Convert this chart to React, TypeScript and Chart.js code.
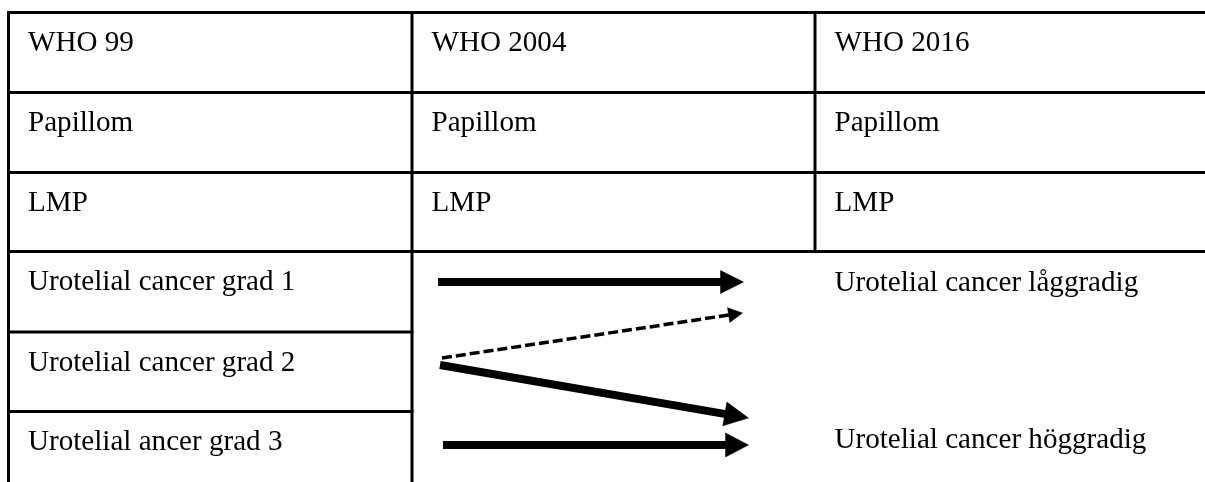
import React, { useEffect, useRef } from "react";
import { Chart, registerables } from "chart.js";

Chart.register(...registerables);

// ---------- content ----------
const headers = ["WHO 99", "WHO 2004", "WHO 2016"];
const who99Rows = [
  "Papillom",
  "LMP",
  "Urotelial cancer grad 1",
  "Urotelial cancer grad 2",
  "Urotelial ancer grad 3",
];
const who2004Rows = ["Papillom", "LMP"];
const who2016Rows = ["Papillom", "LMP"];
const mergedOutcomes = ["Urotelial cancer låggradig", "Urotelial cancer höggradig"];
// transitions: WHO 99 grade row -> merged outcome
const transitionFrom = [2, 3, 3, 4];
const transitionTo = [0, 0, 1, 1];
const transitionDashed = [false, true, false, false];

// ---------- layout (scale units = pixels) ----------
const W = 1205;
const H = 482;
const rowLines = [12.5, 92.5, 172.5, 251.5, 332, 411.5];
const colLines = [8.5, 412, 815];
const GRID_W = 3;
const TEXT_DX = 19.5;
const TEXT_DY = 38.5;
const FONT_PX = 29.1;
const outcomeBaselines = [290.5, 448];
const arrowLayout = [
  { x0: 438, y0: 282, x1: 743.5, y1: 282, lw: 8, headL: 23, headW: 23 },
  { x0: 442, y0: 358, x1: 742.5, y1: 313, lw: 3.5, headL: 14, headW: 15 },
  { x0: 440, y0: 365, x1: 748.5, y1: 418, lw: 8, headL: 24, headW: 24 },
  { x0: 443, y0: 445, x1: 748.5, y1: 445, lw: 8, headL: 23, headW: 24 },
];

function seg(x0: number, y0: number, x1: number, y1: number, width: number, extra: any = {}) {
  return {
    data: [
      { x: x0, y: y0 },
      { x: x1, y: y1 },
    ],
    borderColor: "#000",
    backgroundColor: "#000",
    borderWidth: width,
    borderCapStyle: "square",
    pointRadius: 0,
    fill: false,
    tension: 0,
    ...extra,
  };
}

function buildDatasets() {
  const ds: any[] = [];
  // horizontal grid lines
  rowLines.forEach((y, i) => {
    const right = i <= 3 ? W : colLines[1];
    ds.push(seg(colLines[0], y, right, y, GRID_W));
  });
  // vertical grid lines
  ds.push(seg(colLines[0], rowLines[0], colLines[0], H, GRID_W));
  ds.push(seg(colLines[1], rowLines[0], colLines[1], H, GRID_W));
  ds.push(seg(colLines[2], rowLines[0], colLines[2], rowLines[3], GRID_W));

  // transition arrows
  transitionFrom.forEach((_from, i) => {
    const a = arrowLayout[i];
    const dx = a.x1 - a.x0;
    const dy = a.y1 - a.y0;
    const len = Math.hypot(dx, dy);
    const ux = dx / len;
    const uy = dy / len;
    const nx = -uy;
    const ny = ux;
    const bx = a.x1 - a.headL * ux;
    const by = a.y1 - a.headL * uy;
    const dashed = transitionDashed[i];
    ds.push(
      seg(a.x0, a.y0, bx + ux * 1, by + uy * 1, a.lw, {
        borderCapStyle: "butt",
        borderDash: dashed ? [10, 4] : [],
      })
    );
    ds.push({
      data: [
        { x: a.x1, y: a.y1 },
        { x: bx + (nx * a.headW) / 2, y: by + (ny * a.headW) / 2 },
        { x: bx - (nx * a.headW) / 2, y: by - (ny * a.headW) / 2 },
        { x: a.x1, y: a.y1 },
      ],
      borderColor: "#000",
      backgroundColor: "#000",
      borderWidth: 0.5,
      pointRadius: 0,
      tension: 0,
      fill: "shape",
    });
  });
  return ds;
}

const cellTextPlugin = {
  id: "cellText",
  afterDatasetsDraw(chart: any) {
    const { ctx } = chart;
    const xs = chart.scales.x;
    const ys = chart.scales.y;
    ctx.save();
    ctx.fillStyle = "#000";
    ctx.font = `${FONT_PX}px 'Liberation Serif', 'Times New Roman', serif`;
    ctx.textAlign = "left";
    ctx.textBaseline = "alphabetic";
    const put = (t: string, vx: number, vy: number) =>
      ctx.fillText(t, xs.getPixelForValue(vx), ys.getPixelForValue(vy));
    headers.forEach((h, c) => put(h, colLines[c] + TEXT_DX, rowLines[0] + TEXT_DY));
    who99Rows.forEach((t, r) => put(t, colLines[0] + TEXT_DX, rowLines[r + 1] + TEXT_DY));
    who2004Rows.forEach((t, r) => put(t, colLines[1] + TEXT_DX, rowLines[r + 1] + TEXT_DY));
    who2016Rows.forEach((t, r) => put(t, colLines[2] + TEXT_DX, rowLines[r + 1] + TEXT_DY));
    mergedOutcomes.forEach((t, i) => put(t, colLines[2] + TEXT_DX, outcomeBaselines[i]));
    ctx.restore();
  },
};

export default function App() {
  const ref = useRef<HTMLCanvasElement | null>(null);
  useEffect(() => {
    if (!ref.current) return;
    const chart = new Chart(ref.current, {
      type: "line",
      data: { datasets: buildDatasets() },
      options: {
        responsive: false,
        animation: false,
        devicePixelRatio: 1,
        events: [],
        layout: { padding: 0 },
        plugins: {
          legend: { display: false },
          tooltip: { enabled: false },
        },
        scales: {
          x: { type: "linear", min: 0, max: W, display: false },
          y: { type: "linear", min: 0, max: H, reverse: true, display: false },
        },
      } as any,
      plugins: [cellTextPlugin],
    });
    return () => chart.destroy();
  }, []);
  return (
    <div style={{ position: "absolute", left: 0, top: 0, width: W, height: H, background: "#fff" }}>
      <canvas ref={ref} width={W} height={H} style={{ display: "block" }} />
    </div>
  );
}
